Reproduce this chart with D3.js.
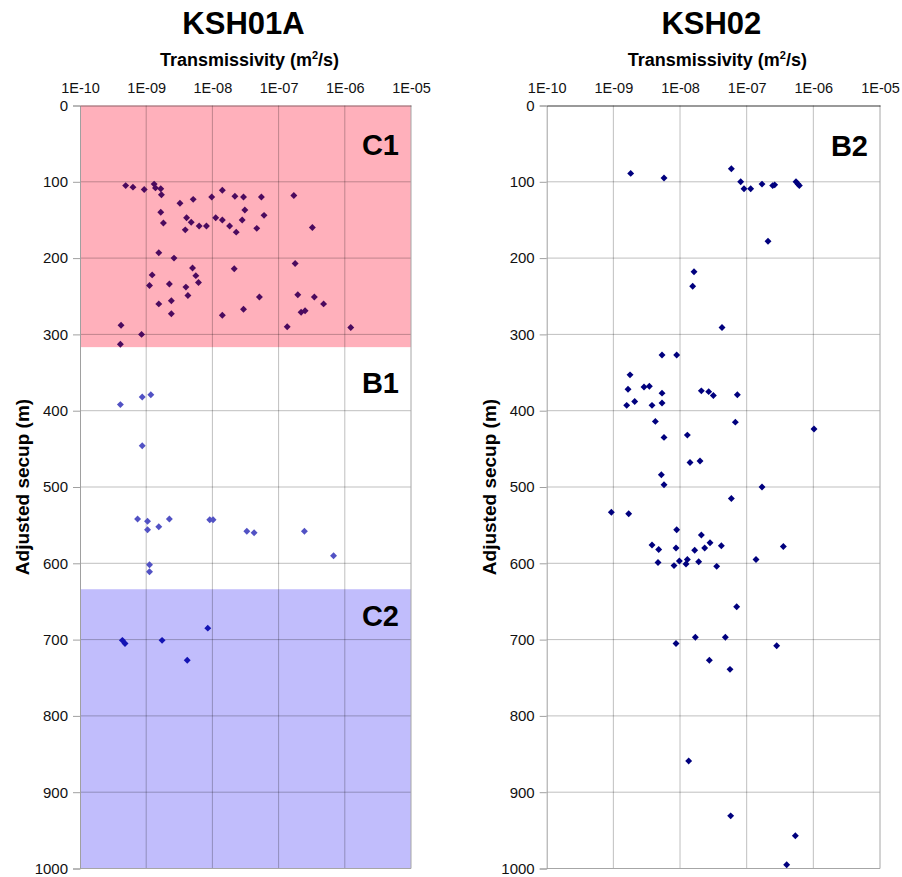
<!DOCTYPE html>
<html>
<head>
<meta charset="utf-8">
<script src="https://cdn.jsdelivr.net/npm/d3@7"></script>
<style>
  body { margin: 0; background: #fff; }
  text { font-family: Arial, "Liberation Sans", sans-serif; }
</style>
</head>
<body>
<script>
const width = 902;
const height = 877;
const plotTop = 105.5;
const plotBottom = 868.5;

// axis ticks
const tTicks = [1e-10, 1e-9, 1e-8, 1e-7, 1e-6, 1e-5];
const depthTicks = [0, 100, 200, 300, 400, 500, 600, 700, 800, 900, 1000];

// KSH01A: log10 transmissivity (m2/s) and adjusted secup (m)
const ksh01aLogT = [
  -9.31, -9.20, -9.03, -8.88, -8.86, -8.78, -8.77, -8.49, -8.29, -8.01, -7.85, -7.66, -7.53, -7.26, -6.77,
  -8.78, -8.74, -8.39, -8.32, -8.41, -8.20, -8.09, -7.95, -7.85, -7.74, -7.64, -7.55, -7.51, -7.33, -7.22, -6.49,
  -8.81, -8.58, -8.30, -7.67, -6.75, -8.91, -8.25, -8.21, -8.95, -8.65, -8.40, -8.37, -7.29, -6.71, -6.46, -6.32,
  -8.81, -8.62, -8.62, -7.53, -7.85, -6.66, -6.60, -9.38, -6.87, -5.91, -9.07, -9.39,
  -9.39, -9.06, -8.93, -9.06, -9.13, -8.98, -8.98, -8.81, -8.65, -8.04, -7.99, -7.48, -7.37, -6.61, -6.17, -8.95, -8.95,
  -8.07, -9.36, -9.32, -8.76, -8.38
];
const ksh01aDepth = [
  105, 107, 110, 103, 108, 109, 117, 128, 123, 120, 111, 119, 120, 120, 118,
  140, 154, 147, 153, 163, 158, 158, 147, 150, 158, 166, 150, 137, 161, 144, 160,
  193, 200, 213, 214, 207, 222, 223, 232, 236, 234, 238, 249, 251, 248, 251, 260,
  260, 256, 273, 267, 275, 271, 269, 288, 290, 291, 300, 313,
  392, 382, 379, 446, 542, 545, 556, 552, 542, 543, 543, 558, 560, 558, 590, 602, 611,
  685, 701, 705, 701, 727
];

// KSH02
const ksh02LogT = [
  -8.74, -8.24, -7.23, -7.09, -7.04, -6.94, -6.77, -6.61, -6.58, -6.26, -6.23, -6.21,
  -6.68, -7.79, -7.81, -7.37, -8.27, -8.05,
  -8.75, -8.78, -8.54, -8.46, -8.27, -7.68, -7.57, -7.50, -7.14, -8.80, -8.68, -8.42, -8.27,
  -8.37, -7.17, -5.99, -8.24, -7.89, -7.85, -7.70, -8.28, -8.24, -6.77, -7.23,
  -9.03, -8.77, -8.05, -7.68, -8.42, -8.32, -8.06, -7.78, -7.63, -7.55, -7.38, -6.45,
  -6.86, -8.33, -8.01, -8.09, -7.89, -7.91, -7.72, -7.45,
  -7.15, -7.77, -7.32, -8.06, -6.55, -7.56, -7.25, -7.87, -7.24, -6.27, -6.40
];
const ksh02Depth = [
  89, 95, 83, 100, 109, 109, 103, 105, 104, 100, 103, 105,
  178, 218, 237, 291, 327, 327,
  353, 372, 369, 368, 377, 374, 375, 380, 379, 393, 388, 393, 390,
  414, 415, 424, 435, 432, 468, 466, 484, 497, 500, 515,
  533, 535, 556, 563, 576, 582, 580, 583, 580, 573, 577, 578,
  595, 599, 597, 603, 595, 601, 598, 604,
  657, 697, 697, 705, 708, 727, 739, 859, 931, 957, 995
];

// hydraulic domains
const ksh01aZones = ["C1", "B1", "C2"];
const ksh01aZoneTop = [0, 317, 634];
const ksh01aZoneBottom = [317, 634, 1000];
const ksh01aZoneLabelDepth = [65, 377, 682];

const ksh02Zones = ["B2"];
const ksh02ZoneTop = [0];
const ksh02ZoneBottom = [1000];
const ksh02ZoneLabelDepth = [66];

const zoneFill = { C1: "#ffb0bb", B1: "#ffffff", C2: "#c1bdfc", B2: "#ffffff" };
const zonePoint = { C1: "#4b0a5e", B1: "#5252c4", C2: "#1414b4", B2: "#00007e" };

const svg = d3.select("body")
  .append("svg")
  .attr("width", width)
  .attr("height", height);

const fmtT = d => "1E-" + String(Math.round(-Math.log10(d))).padStart(2, "0");

function drawPanel(p) {
  const x = d3.scaleLog().domain([1e-10, 1e-5]).range([p.left, p.right]);
  const y = d3.scaleLinear().domain([0, 1000]).range([plotTop, plotBottom]);
  const cx = (p.left + p.right) / 2;

  const zones = p.zones.map((name, i) => ({
    name, top: p.zoneTop[i], bottom: p.zoneBottom[i], labelDepth: p.labelDepth[i]
  }));
  const zoneOf = d => zones.find(z => d >= z.top && d < z.bottom) || zones[zones.length - 1];

  const g = svg.append("g");

  // coloured domains
  g.selectAll("rect.zone")
    .data(zones)
    .join("rect")
    .attr("class", "zone")
    .attr("x", x(1e-10))
    .attr("width", x(1e-5) - x(1e-10))
    .attr("y", d => y(d.top))
    .attr("height", d => y(d.bottom) - y(d.top))
    .attr("fill", d => zoneFill[d.name]);

  // gridlines
  g.append("g")
    .selectAll("line")
    .data(tTicks.slice(1, -1))
    .join("line")
    .attr("x1", d => x(d)).attr("x2", d => x(d))
    .attr("y1", plotTop).attr("y2", plotBottom)
    .attr("stroke", "#000").attr("stroke-opacity", 0.25);

  g.append("g")
    .selectAll("line")
    .data(depthTicks.slice(1, -1))
    .join("line")
    .attr("x1", p.left).attr("x2", p.right)
    .attr("y1", d => y(d)).attr("y2", d => y(d))
    .attr("stroke", "#000").attr("stroke-opacity", 0.25);

  // right + bottom frame
  g.append("path")
    .attr("d", `M${p.left},${plotBottom}H${p.right}V${plotTop}`)
    .attr("fill", "none")
    .attr("stroke", "#a6a6a6");

  // y axis
  const yAxis = g.append("g")
    .attr("transform", `translate(${p.left},0)`)
    .call(d3.axisLeft(y).tickValues(depthTicks).tickFormat(d3.format("d")).tickSize(7).tickPadding(5));
  yAxis.select(".domain").attr("stroke", "#a0a0a0");
  yAxis.selectAll(".tick line").attr("stroke", "#a0a0a0");
  yAxis.selectAll(".tick text").attr("font-size", 15).attr("fill", "#111");

  // x axis on top
  const xAxis = g.append("g")
    .attr("transform", `translate(0,${plotTop})`)
    .call(d3.axisTop(x).tickValues(tTicks).tickFormat(fmtT).tickSize(0).tickPadding(13));
  xAxis.select(".domain").attr("stroke", "#000").attr("stroke-opacity", p.topOpacity);
  xAxis.selectAll(".tick text").attr("font-size", 14.5).attr("fill", "#111");

  // data points
  const pts = p.logT.map((v, i) => ({ t: Math.pow(10, v), d: p.depth[i] }));
  g.append("g")
    .selectAll("path")
    .data(pts)
    .join("path")
    .attr("d", d3.symbol().type(d3.symbolSquare).size(24))
    .attr("transform", d => `translate(${x(d.t)},${y(d.d)}) rotate(45)`)
    .attr("fill", d => zonePoint[zoneOf(d.d).name]);

  // domain labels
  g.append("g")
    .selectAll("text")
    .data(zones)
    .join("text")
    .attr("x", p.right - 12)
    .attr("y", d => y(d.labelDepth))
    .attr("text-anchor", "end")
    .attr("font-size", 29)
    .attr("font-weight", "bold")
    .text(d => d.name);

  // titles
  g.append("text")
    .attr("x", cx - 2).attr("y", 34)
    .attr("text-anchor", "middle")
    .attr("font-size", 31).attr("font-weight", "bold")
    .text(p.title);

  const sub = g.append("text")
    .attr("x", cx + 4).attr("y", 66)
    .attr("text-anchor", "middle")
    .attr("font-size", 18).attr("font-weight", "bold");
  sub.append("tspan").text("Transmissivity (m");
  sub.append("tspan").attr("font-size", 11).attr("dy", -7).text("2");
  sub.append("tspan").attr("dy", 7).text("/s)");

  g.append("text")
    .attr("transform", `translate(${p.left - 51},${(plotTop + plotBottom) / 2}) rotate(-90)`)
    .attr("text-anchor", "middle")
    .attr("font-size", 19).attr("font-weight", "bold")
    .text("Adjusted secup (m)");
}

drawPanel({
  title: "KSH01A", left: 80, right: 411, topOpacity: 0.45,
  logT: ksh01aLogT, depth: ksh01aDepth,
  zones: ksh01aZones, zoneTop: ksh01aZoneTop, zoneBottom: ksh01aZoneBottom, labelDepth: ksh01aZoneLabelDepth
});

drawPanel({
  title: "KSH02", left: 546.7, right: 880, topOpacity: 0.8,
  logT: ksh02LogT, depth: ksh02Depth,
  zones: ksh02Zones, zoneTop: ksh02ZoneTop, zoneBottom: ksh02ZoneBottom, labelDepth: ksh02ZoneLabelDepth
});
</script>
</body>
</html>
